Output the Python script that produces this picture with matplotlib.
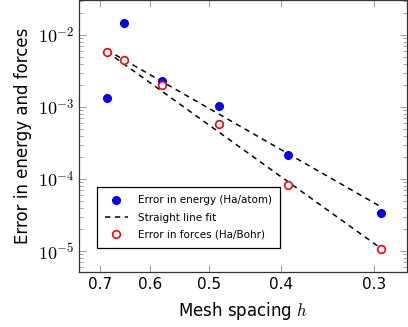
import matplotlib
matplotlib.use("Agg")
import numpy as np
import matplotlib.pyplot as plt
from matplotlib.ticker import FixedLocator, FixedFormatter, NullLocator, LogLocator, FuncFormatter

# mesh spacing values
h = [0.686, 0.651, 0.578, 0.485, 0.392, 0.294]
energy_err = [1.32e-3, 1.48e-2, 2.32e-3, 1.02e-3, 2.13e-4, 3.33e-5]
force_err = [5.75e-3, 4.45e-3, 2.0e-3, 5.8e-4, 8.2e-5, 1.07e-5]

# straight line fit end points
fit_h = [0.686, 0.294]
energy_fit = [6.2e-3, 4.12e-5]
force_fit = [5.87e-3, 1.09e-5]

x_ticks = [0.7, 0.6, 0.5, 0.4, 0.3]
x_labels = ["0.7", "0.6", "0.5", "0.4", "0.3"]

plt.rcParams["mathtext.fontset"] = "cm"
plt.rcParams["font.family"] = "DejaVu Sans"

figure = plt.figure(figsize=(4.08, 3.27), dpi=100)
axis = figure.add_axes([0.194, 0.168, 0.804, 0.832])

axis.plot(h, energy_err, "o", color="blue", markersize=5.5, linestyle="none",
          label="Error in energy (Ha/atom)", zorder=3)
axis.plot(fit_h, energy_fit, "--", color="black", linewidth=1.1, dashes=(3.5, 3),
          label="Straight line fit", zorder=2)
axis.plot(fit_h, force_fit, "--", color="black", linewidth=1.1, dashes=(3.5, 3), zorder=2)
axis.plot(h, force_err, "o", markerfacecolor="white", markeredgecolor="red",
          markeredgewidth=1.2, markersize=5.5, linestyle="none",
          label="Error in forces (Ha/Bohr)", zorder=4)

axis.set_xscale("log")
axis.set_yscale("log")
axis.set_xlim(0.747, 0.271)
axis.set_ylim(5.1e-6, 3.06e-2)

axis.xaxis.set_major_locator(FixedLocator(x_ticks))
axis.xaxis.set_major_formatter(FixedFormatter(x_labels))
axis.xaxis.set_minor_locator(NullLocator())
axis.yaxis.set_major_locator(LogLocator(base=10, numticks=10))
axis.yaxis.set_minor_locator(LogLocator(base=10, subs=range(2, 10), numticks=10))
axis.yaxis.set_major_formatter(FuncFormatter(lambda v, pos: r"$10^{%d}$" % round(np.log10(v))))

axis.tick_params(which="both", direction="in", top=True, right=True, color="#999999")
axis.tick_params(which="major", length=5, width=0.7, labelsize=11)
axis.tick_params(which="minor", length=3, width=0.6)
axis.tick_params(axis="y", labelsize=13)
for spine in axis.spines.values():
    spine.set_color("#333333")
    spine.set_linewidth(0.9)

axis.set_xlabel("Mesh spacing $h$", fontsize=12, labelpad=6)
axis.set_ylabel("Error in energy and forces", fontsize=12, labelpad=4)

legend = axis.legend(loc="upper left", bbox_to_anchor=(0.054, 0.311), borderaxespad=0,
                     fancybox=False, edgecolor="black", fontsize=7.5,
                     handlelength=2.2, handletextpad=1.0, borderpad=0.75,
                     labelspacing=0.7, framealpha=1)
legend.get_frame().set_linewidth(0.9)

figure.savefig("out.png", dpi=100)
plt.close(figure)
